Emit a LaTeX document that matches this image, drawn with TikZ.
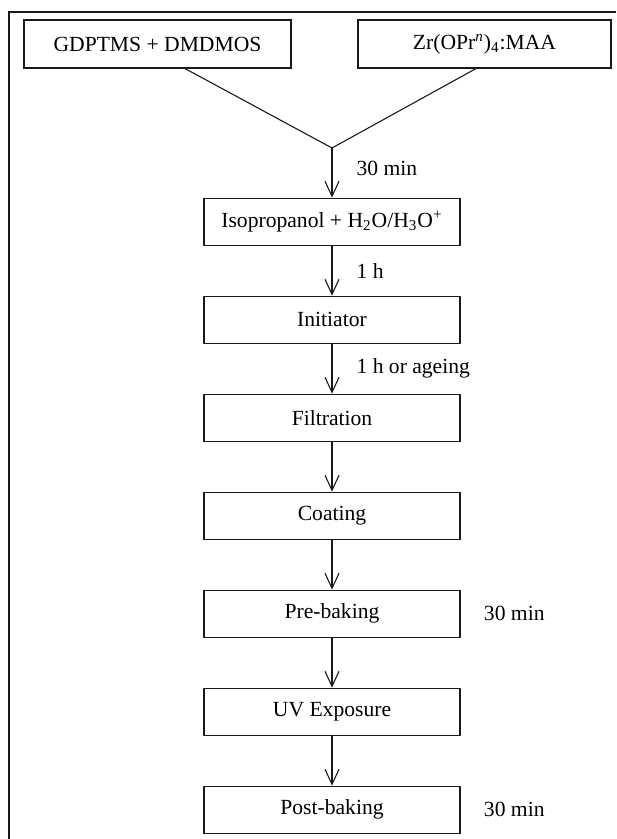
\documentclass[tikz,border=0pt]{standalone}
\usepackage{fontspec}
\setmainfont{Liberation Serif}
\usepackage{tikz}
\usetikzlibrary{
  arrows.meta,
  positioning
}
\definecolor{flowblack}{RGB}{25,25,25}
\tikzset{
  flowStep/.style={
    rectangle,
    draw=flowblack,
    line width=0.55pt,
    minimum width=128pt,
    minimum height=23.6pt,
    inner sep=2pt,
    align=center
  },
  flowSource/.style={
    flowStep,
    minimum height=24pt
  },
  flowArrow/.style={
    -{Straight Barb[length=7.5pt,width=7pt]},
    line width=0.55pt,
    draw=flowblack
  },
  flowLine/.style={
    line width=0.55pt,
    draw=flowblack
  },
  timeLabel/.style={
    inner sep=0pt,
    anchor=west
  }
}

\begin{document}
\begin{tikzpicture}[x=0.5pt, y=0.5pt, node distance=24.85pt,
  font=\fontsize{10.8}{13}\selectfont]
  \useasboundingbox (0,0) rectangle (616,-839);
  \draw[line width=0.8pt, draw=flowblack] (616,-12) -- (9,-12) -- (9,-839);

  \node[flowSource, minimum width=133.5pt] at (157.5,-44)
    (silanes) {GDPTMS + DMDMOS};
  \node[flowSource, minimum width=126.5pt] at (484.5,-44)
    (zirconium) {Zr(OPr\textsuperscript{\textit{n}})\textsubscript{4}:MAA};
  \coordinate (merge) at (332,-148);

  \node[flowStep, below=24.8pt of merge]
    (solvent) {Isopropanol + H\textsubscript{2}O/H\textsubscript{3}O\textsuperscript{+}};
  \node[flowStep, below=of solvent] (initiator) {Initiator};
  \node[flowStep, below=of initiator] (filtration) {Filtration};
  \node[flowStep, below=of filtration] (coating) {Coating};
  \node[flowStep, below=of coating] (prebake) {Pre-baking};
  \node[flowStep, below=of prebake] (exposure) {UV Exposure};
  \node[flowStep, below=of exposure] (postbake) {Post-baking};

  \node[timeLabel, right=11.5pt of prebake] (prebakeTime) {30 min};
  \node[timeLabel, right=11.5pt of postbake] (postbakeTime) {30 min};

  \draw[flowLine] ([xshift=13.75pt]silanes.south) -- (merge);
  \draw[flowLine] ([xshift=-4.25pt]zirconium.south) -- (merge);
  \draw[flowArrow] (merge) --
    node[timeLabel, xshift=12pt, yshift=2pt] {30 min} (solvent);
  \draw[flowArrow] (solvent) --
    node[timeLabel, xshift=12pt] {1 h} (initiator);
  \draw[flowArrow] (initiator) --
    node[timeLabel, xshift=12pt] {1 h or ageing} (filtration);
  \draw[flowArrow] (filtration) -- (coating);
  \draw[flowArrow] (coating) -- (prebake);
  \draw[flowArrow] (prebake) -- (exposure);
  \draw[flowArrow] (exposure) -- (postbake);
\end{tikzpicture}
\end{document}
